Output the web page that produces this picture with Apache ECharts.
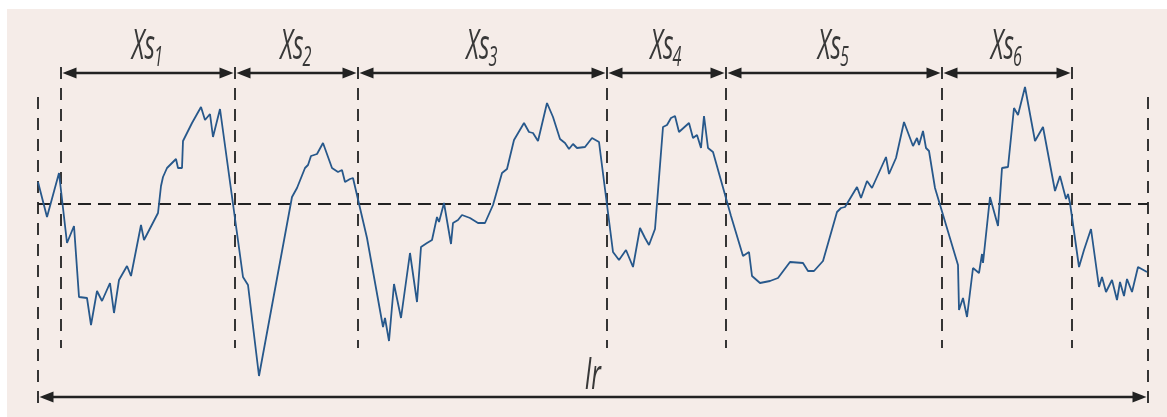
<!DOCTYPE html>
<html>
<head>
<meta charset="utf-8">
<script src="https://cdn.jsdelivr.net/npm/echarts@6/dist/echarts.min.js"></script>
<style>
  html, body { margin: 0; padding: 0; background: #ffffff; }
  #chart { width: 1167px; height: 417px; }
</style>
</head>
<body>
<div id="chart"></div>
<script>
// Roughness profile: position along the evaluation length and height about the mean line
const profileX = [
  0, 9, 21, 29, 36, 41, 49, 53, 59, 64, 72, 76, 81, 89, 93, 103, 106, 120, 123, 125,
  129, 138, 140, 144, 145, 149, 154, 163, 167, 172, 175, 182, 205, 210, 221, 254, 259, 267, 270, 273,
  279, 285, 294, 297, 300, 304, 307, 312, 315, 329, 330, 345, 347, 351, 356, 363, 372, 379, 383, 389,
  394, 399, 401, 406, 413, 415, 420, 424, 432, 440, 447, 455, 464, 469, 476, 486, 491, 495, 500, 509,
  515, 522, 527, 531, 535, 539, 547, 554, 561, 575, 581, 588, 595, 602, 607, 611, 617, 625, 629, 633,
  637, 641, 651, 655, 659, 663, 666, 670, 675, 693, 705, 711, 714, 722, 732, 740, 752, 765, 770, 776,
  785, 799, 803, 807, 819, 823, 829, 834, 848, 851, 858, 866, 875, 879, 881, 885, 888, 891, 897, 899,
  920, 921, 925, 929, 935, 941, 944, 945, 952, 960, 964, 970, 976, 980, 987, 997, 1005, 1017, 1022, 1028,
  1030, 1032, 1041, 1046, 1053, 1061, 1064, 1068, 1074, 1079, 1082, 1086, 1089, 1094, 1100, 1109
];
const profileZ = [
  22, -13, 31, -39, -22, -93, -94, -121, -87, -97, -79, -109, -76, -62, -72, -21, -36, -9, 18, 27,
  36, 45, 36, 36, 63, 71, 81, 97, 84, 90, 67, 95, -73, -81, -172, 7, 16, 36, 39, 48,
  50, 61, 36, 34, 32, 34, 22, 25, 26, -34, -35, -123, -114, -137, -80, -114, -49, -98, -43, -39,
  -36, -13, -18, 1, -40, -19, -16, -11, -14, -19, -19, -1, 31, 35, 64, 81, 72, 71, 63, 101,
  87, 65, 61, 55, 60, 56, 57, 66, 62, -48, -56, -46, -63, -24, -34, -41, -25, 77, 79, 86,
  88, 72, 81, 66, 69, 56, 88, 56, 52, -12, -52, -48, -72, -79, -77, -74, -58, -59, -67, -67,
  -57, -8, -4, -3, 17, 6, 23, 16, 47, 30, 46, 82, 58, 66, 59, 73, 56, 53, 16, 15,
  -61, -106, -94, -113, -64, -69, -50, -59, 7, -22, 36, 37, 96, 89, 117, 63, 77, 13, 28, 5,
  10, 1, -63, -46, -25, -83, -73, -88, -76, -96, -78, -92, -75, -88, -63, -68
];
// Mean-line crossings bounding the profile elements Xs1 ... Xs6
const crossings = [23, 197, 320, 569, 688, 904, 1034];
// Limits of the evaluation length lr
const lengthLimits = [0, 1110];
const elementNames = ['1', '2', '3', '4', '5', '6'];
const lengthName = 'lr';

const INK = '#222222';
const TEXT = '#383838';
const LINE_BLUE = '#27588b';
const FONT = '"Open Sans", "DejaVu Sans", sans-serif';

// Heights (in profile units) used to place the dimension arrows and extension lines
const ARROW_TOP = 131;
const ARROW_BOTTOM = -193;
const EXT_INNER = [137, -144];
const EXT_OUTER = [107, -200];

const profileData = profileX.map((x, i) => [x, profileZ[i]]);

const boundaryData = crossings.map(x => [x, EXT_INNER[0], EXT_INNER[1]])
  .concat(lengthLimits.map(x => [x, EXT_OUTER[0], EXT_OUTER[1]]));

const arrowData = [];
for (let i = 0; i < crossings.length - 1; i++) {
  arrowData.push([crossings[i], crossings[i + 1], ARROW_TOP, i]);
}
arrowData.push([lengthLimits[0], lengthLimits[1], ARROW_BOTTOM, -1]);

function renderBoundary(params, api) {
  const p1 = api.coord([api.value(0), api.value(1)]);
  const p2 = api.coord([api.value(0), api.value(2)]);
  return {
    type: 'line',
    shape: { x1: p1[0], y1: p1[1], x2: p2[0], y2: p2[1] },
    style: { stroke: INK, lineWidth: 1.8, lineDash: [12, 9] }
  };
}

function labelPieces(cx, baseY, main, sub) {
  const scale = 0.58;
  const pieces = [{
    type: 'text',
    x: sub ? cx + 7 : cx,
    y: baseY - 12.5,
    scaleX: scale,
    style: {
      text: main,
      x: 0, y: 0,
      fill: TEXT,
      font: 'italic 42px ' + FONT,
      align: sub ? 'right' : 'center',
      verticalAlign: 'middle'
    }
  }];
  if (sub) {
    pieces.push({
      type: 'text',
      x: cx + 6,
      y: baseY + 7 - 8.5,
      scaleX: scale,
      style: {
        text: sub,
        x: 0, y: 0,
        fill: TEXT,
        font: 'italic 28px ' + FONT,
        align: 'left',
        verticalAlign: 'middle'
      }
    });
  }
  return pieces;
}

function renderArrow(params, api) {
  const a = api.coord([api.value(0), api.value(2)]);
  const b = api.coord([api.value(1), api.value(2)]);
  const idx = api.value(3);
  const gap = 1.5, L = 14, W = 5.5;
  const y = a[1];
  const x1 = a[0] + gap, x2 = b[0] - gap;
  const children = [
    { type: 'line', shape: { x1: x1 + L - 1, y1: y, x2: x2 - L + 1, y2: y },
      style: { stroke: INK, lineWidth: 2.6 } },
    { type: 'polygon', shape: { points: [[x1, y], [x1 + L, y - W], [x1 + L, y + W]] },
      style: { fill: INK } },
    { type: 'polygon', shape: { points: [[x2, y], [x2 - L, y - W], [x2 - L, y + W]] },
      style: { fill: INK } }
  ];
  const cx = (a[0] + b[0]) / 2;
  if (idx >= 0) {
    children.push(...labelPieces(cx, y - 13, 'Xs', elementNames[idx]));
  } else {
    children.push(...labelPieces(cx, y - 7, lengthName, null));
  }
  return { type: 'group', children: children };
}

const chart = echarts.init(document.getElementById('chart'), null, { renderer: 'canvas' });
chart.setOption({
  animation: false,
  graphic: [{
    type: 'rect', left: 7, top: 9, z: -1,
    shape: { width: 1160, height: 408 },
    style: { fill: '#f5ece8' }
  }],
  grid: { left: 38, right: 19, top: 54, bottom: 3 },
  xAxis: { type: 'value', min: lengthLimits[0], max: lengthLimits[1], show: false },
  yAxis: { type: 'value', min: -210, max: 150, show: false },
  series: [
    {
      name: 'mean line',
      type: 'line',
      data: [[lengthLimits[0], 0], [lengthLimits[1], 0]],
      symbol: 'none',
      silent: true,
      lineStyle: { color: INK, width: 1.9, type: [13, 7] },
      z: 1
    },
    {
      name: 'extension lines',
      type: 'custom',
      data: boundaryData,
      renderItem: renderBoundary,
      silent: true,
      z: 1
    },
    {
      name: 'profile',
      type: 'line',
      data: profileData,
      symbol: 'none',
      silent: true,
      lineStyle: { color: LINE_BLUE, width: 1.8 },
      z: 3
    },
    {
      name: 'dimensions',
      type: 'custom',
      data: arrowData,
      renderItem: renderArrow,
      silent: true,
      z: 4
    }
  ]
});
</script>
</body>
</html>
